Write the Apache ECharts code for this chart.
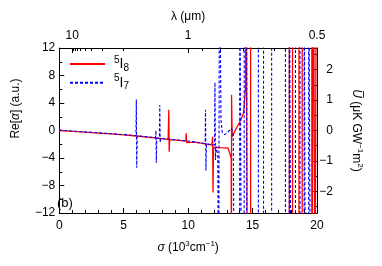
<!DOCTYPE html>
<html><head><meta charset="utf-8">
<script src="https://cdn.jsdelivr.net/npm/echarts@6/dist/echarts.min.js"></script>
<style>html,body{margin:0;padding:0;background:#fff}#c{width:382px;height:266px}</style>
</head><body><div id="c"></div>
<script>
// 5I8 (red, solid): sigma in 10^3 cm^-1, Re[alpha] in a.u.
const i8Sigma = [0,1,2,3,4,5,6,7,8,8.45,8.5,8.53,8.57,9.3,9.82,9.85,9.88,9.92,10.5,11.3,11.85,11.9,11.93,11.97,12.5,13.1,13.25,13.34,13.36,13.37,13.42,13.7,14.0,14.3,14.45,14.5,14.6,14.6,14.85,14.85,17.85,17.85,18.1,18.1,18.6,18.6,18.85,18.85,19.6,19.6,19.72,19.72,19.85,19.85,19.95,19.95,20];
const i8Re = [0,-0.12,-0.25,-0.37,-0.5,-0.63,-0.8,-1.0,-1.2,-1.28,3.0,-3.1,-1.32,-1.45,-1.55,-0.4,-1.75,-1.58,-1.7,-1.95,-2.12,-0.9,-9.0,-2.45,-2.5,-2.55,-2.8,-4.0,-30,5.2,-0.9,0.2,1.2,2.5,6,30,30,-30,-30,30,30,-30,-30,30,30,-30,-30,30,30,-30,-30,30,30,-30,-30,30,30];
// 5I7 (blue, dashed)
const i7Sigma = [0,1,2,3,4,5,5.95,5.98,6.01,6.05,7.0,7.47,7.5,7.53,7.57,7.77,7.8,7.83,7.87,9.0,10.5,11.32,11.35,11.38,11.42,12.05,12.08,12.12,12.17,12.3,12.37,12.43,12.55,12.65,12.8,13.0,13.2,13.38,13.5,13.6,14.0,14.0,14.15,14.15,14.35,14.35,14.55,14.55,15.45,15.45,15.85,15.85,16.48,16.48,17.55,17.55,17.85,17.85,17.98,17.98,18.33,18.33,18.68,18.68,19.0,19.0,19.1,19.1,19.35,19.35,19.5,19.5,20];
const i7Re = [0.05,-0.08,-0.2,-0.33,-0.46,-0.6,-0.74,4.5,-5.4,-0.78,-0.95,-1.04,0.0,-4.7,-1.08,-1.12,3.7,-1.8,-1.15,-1.35,-1.65,-1.9,3.0,-5.8,-1.95,-2.1,7.0,-4.3,-2.3,-3.5,-30,30,1.5,-0.3,-0.6,-0.4,0.0,0.3,-0.5,-30,-30,30,30,-30,-30,30,30,-30,-30,30,30,-30,-30,30,30,-30,-30,30,30,-30,-30,30,30,-30,-30,30,30,-30,-30,30,30,-30,-30];

// tick values
const topLambdaMajor = [10, 1, 0.5];
const topLambdaMinor = [9,8,7,6,5,4,3,2,0.9,0.8,0.7,0.6];
const rightMajor = [-2,-1,0,1,2];
const rightMinor = [-2.5,-1.5,-0.5,0.5,1.5,2.5];
const rightRange = 2.71;

const FONT = 'Liberation Sans, Arial, Helvetica, sans-serif';
const zip = (a, b) => a.map((v, i) => [v, b[i]]);
const minus = v => String(v).replace('-', '\u2212');
const topMajorPos = topLambdaMajor.map(l => 10 / l);
const topMinorPos = topLambdaMinor.map(l => 10 / l);

const black = {color: '#000', width: 1};
const supS = {fontSize: 8, lineHeight: 8, verticalAlign: 'top', fontFamily: FONT, color: '#000'};
const nameStyle = (extra) => Object.assign({
  color: '#000', fontSize: 12, fontFamily: FONT, lineHeight: 16,
  rich: {
    i: {fontStyle: 'italic', fontSize: 12, lineHeight: 16, fontFamily: FONT, color: '#000'},
    s: supS
  }
}, extra || {});
const lblStyle = {color: '#000', fontSize: 12, fontFamily: FONT};

const legendRich = {
  i: {fontSize: 14, lineHeight: 18, fontFamily: FONT, color: '#000'},
  s: {fontSize: 10, lineHeight: 10, verticalAlign: 'top', fontFamily: FONT, color: '#000'},
  b: {fontSize: 10, lineHeight: 10, verticalAlign: 'bottom', fontFamily: FONT, color: '#000'}
};
const legendFmt = name => '{s|' + name[0] + '}{i|' + name[1] + '}{b|' + name[2] + '}';
const legendBase = {
  orient: 'vertical', left: 69, padding: 0, itemWidth: 35, itemHeight: 10, itemGap: 0,
  itemStyle: {opacity: 0},
  formatter: legendFmt, textStyle: {rich: legendRich, padding: [0, 0, 0, 4]}, selectedMode: false
};

const chart = echarts.init(document.getElementById('c'), null, {renderer: 'canvas'});
chart.setOption({
  animation: false,
  backgroundColor: '#fff',
  grid: {left: 54, right: 65, top: 48, bottom: 53, containLabel: false},
  legend: [
    Object.assign({}, legendBase, {data: ['5I8'], top: 55}),
    Object.assign({}, legendBase, {data: ['5I7'], top: 73.7})
  ],
  xAxis: [
    {
      type: 'value', position: 'bottom', min: 0, max: 20, interval: 5,
      axisLine: {onZero: false, lineStyle: black},
      axisTick: {inside: true, length: 5, lineStyle: black},
      minorTick: {show: true, splitNumber: 5, length: 3, lineStyle: black},
      splitLine: {show: false}, minorSplitLine: {show: false},
      axisLabel: Object.assign({margin: 7}, lblStyle),
      name: '{i|σ} (10{s|3}cm{s|\u22121})', nameLocation: 'middle', nameGap: 27,
      nameTextStyle: nameStyle()
    },
    {
      type: 'value', position: 'top', min: 0, max: 20,
      axisLine: {onZero: false, lineStyle: black},
      axisTick: {inside: true, length: 5, lineStyle: black, customValues: topMajorPos},
      splitLine: {show: false},
      axisLabel: Object.assign({margin: 6, customValues: topMajorPos,
        formatter: v => String(Math.round(10 / v * 1000) / 1000)}, lblStyle),
      name: 'λ (μm)', nameLocation: 'middle', nameGap: 22,
      nameTextStyle: nameStyle()
    },
    {
      type: 'value', position: 'top', min: 0, max: 20,
      axisLine: {show: false, onZero: false},
      axisTick: {inside: true, length: 3, lineStyle: black, customValues: topMinorPos},
      axisLabel: {show: false}, splitLine: {show: false}
    }
  ],
  yAxis: [
    {
      type: 'value', position: 'left', min: -12, max: 12, interval: 4,
      axisLine: {onZero: false, lineStyle: black},
      axisTick: {inside: true, length: 5, lineStyle: black},
      minorTick: {show: true, splitNumber: 2, length: 3, lineStyle: black},
      splitLine: {show: false}, minorSplitLine: {show: false},
      axisLabel: Object.assign({margin: 4, formatter: minus}, lblStyle),
      name: 'Re[{i|α}] (a.u.)', nameLocation: 'middle', nameGap: 35,
      nameTextStyle: nameStyle({padding: [0, 0, 0, 44]})
    },
    {
      type: 'value', position: 'right', min: -rightRange, max: rightRange,
      axisLine: {onZero: false, lineStyle: black},
      axisTick: {inside: true, length: 5, lineStyle: black, customValues: rightMajor},
      splitLine: {show: false},
      axisLabel: Object.assign({margin: 16, align: 'right', customValues: rightMajor, formatter: minus}, lblStyle),
      name: '{i|U\u0305} (μK GW{s|\u22121}m{s|2})', nameLocation: 'middle', nameGap: 31, nameRotate: -90,
      nameTextStyle: nameStyle()
    },
    {
      type: 'value', position: 'right', min: -rightRange, max: rightRange,
      axisLine: {show: false, onZero: false},
      axisTick: {inside: true, length: 3, lineStyle: black, customValues: rightMinor},
      axisLabel: {show: false}, splitLine: {show: false}
    }
  ],
  graphic: [
    {type: 'text', left: 57, top: 197, style: {text: '(b)', font: '13px Liberation Sans', fill: '#000'}}
  ],
  series: [
    {
      type: 'line', name: '5I8', xAxisIndex: 0, yAxisIndex: 0, data: zip(i8Sigma, i8Re),
      symbol: 'none', showSymbol: false, clip: true, z: 2,
      lineStyle: {color: '#ff0000', width: 1.3}, itemStyle: {color: '#ff0000'}
    },
    {
      type: 'line', name: '5I7', xAxisIndex: 0, yAxisIndex: 0, data: zip(i7Sigma, i7Re),
      symbol: 'none', showSymbol: false, clip: true, z: 3,
      lineStyle: {color: '#0000ff', width: 1.1, type: [3, 2]}, itemStyle: {color: '#0000ff'}
    }
  ]
});
</script></body></html>
